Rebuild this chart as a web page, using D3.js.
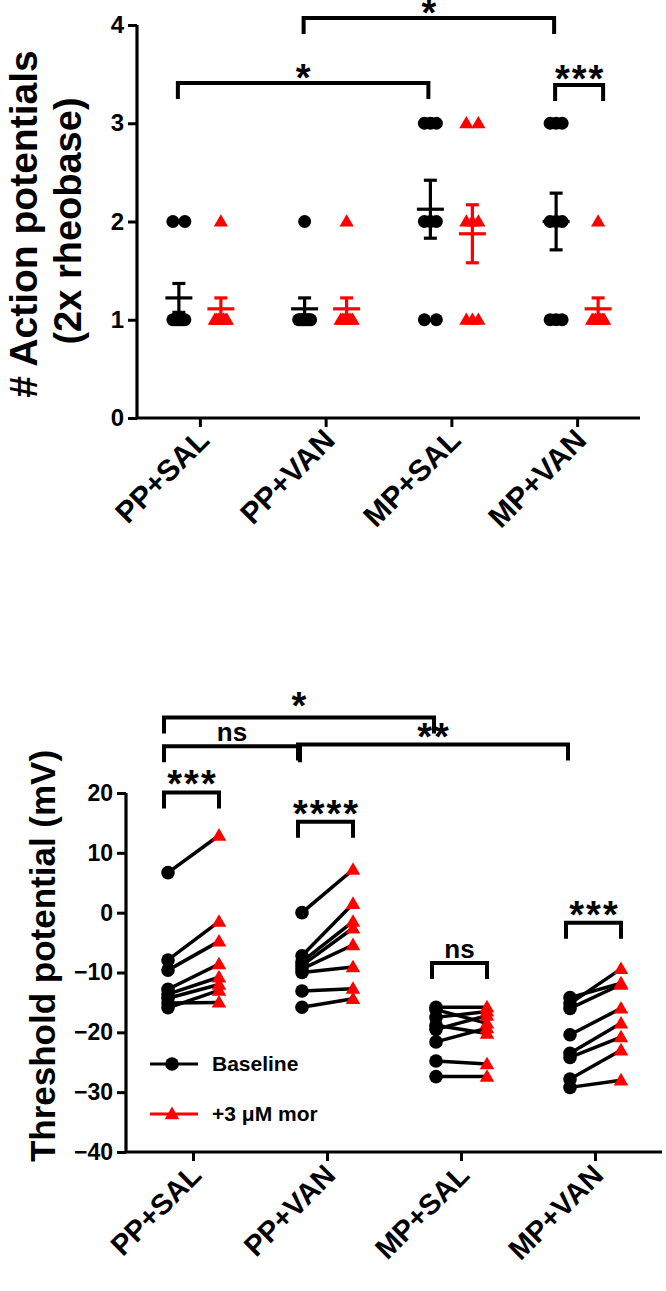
<!DOCTYPE html>
<html><head><meta charset="utf-8">
<script src="https://cdn.jsdelivr.net/npm/d3@7"></script>
<style>body{margin:0;background:#fff}svg{display:block}text{font-family:"Liberation Sans",Arial,sans-serif;font-weight:bold;fill:#000}</style>
</head><body>
<svg id="c" width="666" height="1291"></svg>
<script>
// ---------- data ----------
const categories = ["PP+SAL","PP+VAN","MP+SAL","MP+VAN"];
// Top: # action potentials (2x rheobase)
const apBaseline = [
  [2,2,1,1,1,1,1,1,1],
  [2,1,1,1,1,1,1,1,1],
  [3,3,3,2,2,2,1,1],
  [3,3,3,2,2,2,1,1,1]
];
const apMorphine = [
  [2,1,1,1,1,1,1,1,1],
  [2,1,1,1,1,1,1,1,1],
  [3,3,2,2,2,1,1,1],
  [2,1,1,1,1,1,1,1,1]
];
const apTicks = [0,1,2,3,4];
// Bottom: threshold potential (mV), paired
const thrBaseline = [
  [6.7,-7.9,-9.6,-12.8,-13.6,-14.3,-15.1,-15.9],
  [0,-7.2,-8.2,-8.8,-9.4,-10.0,-13.1,-15.8],
  [-15.8,-16.2,-17.5,-18.8,-19.5,-21.6,-24.8,-27.4],
  [-14.2,-15.2,-16.0,-20.4,-23.5,-24.2,-27.8,-29.2]
];
const thrMorphine = [
  [12.9,-1.5,-4.8,-8.6,-10.8,-12.0,-15.0,-13.0],
  [7.2,1.5,-1.5,-2.6,-5.4,-9.1,-12.7,-14.4],
  [-15.8,-18.5,-16.5,-20.2,-17.2,-19.3,-25.3,-27.4],
  [-11.8,-9.4,-12.0,-16.0,-18.5,-20.8,-23.0,-28.0]
];
const thrTicks = [20,10,0,-10,-20,-30,-40];
const legendLabels = ["Baseline","+3 \u03bcM mor"];
// significance annotations
const topSig = [
  {from:[0,"b"], to:[2,"b"], y:3.41, label:"*"},
  {from:[1,"b"], to:[3,"b"], y:4.07, label:"*"},
  {from:[3,"b"], to:[3,"r"], y:3.39, label:"***"}
];
const botSig = [
  {from:[0,"b"], to:[2,"b"], y:32.6, label:"*"},
  {from:[0,"b"], to:[1,"b"], y:27.8, label:"ns"},
  {from:[1,"b"], to:[3,"b"], y:28.1, label:"**"},
  {from:[0,"b"], to:[0,"r"], y:20.1, label:"***"},
  {from:[1,"b"], to:[1,"r"], y:15.2, label:"****"},
  {from:[2,"b"], to:[2,"r"], y:-8.4, label:"ns"},
  {from:[3,"b"], to:[3,"r"], y:-1.7, label:"***"}
];

const RED = "#ff0000";
const svg = d3.select("#c");

// ---------- TOP CHART ----------
const xT = d3.scalePoint().domain(categories).range([137,640]).padding(0.5);
const yT = d3.scaleLinear().domain([0,4]).range([418,25]);
const gTop = svg.append("g");
const offT = {b:-21, r:21};

const yAxT = gTop.append("g").attr("transform","translate(137,0)")
  .call(d3.axisLeft(yT).tickValues(apTicks).tickSize(9).tickPadding(4).tickFormat(d3.format("d")));
const xAxT = gTop.append("g").attr("transform","translate(0,418)")
  .call(d3.axisBottom(xT).tickSize(9).tickFormat(""));
[yAxT,xAxT].forEach(a=>{a.select(".domain").attr("stroke-width",3.2).attr("stroke","#000");
  a.selectAll(".tick line").attr("stroke-width",3).attr("stroke","#000");});
yAxT.select(".domain").attr("d","M0,25V418");
xAxT.select(".domain").attr("d","M137,0H640");
yAxT.selectAll(".tick text").attr("font-size",24).attr("font-family","Liberation Sans").attr("font-weight","bold");

// x labels top
gTop.selectAll(".xl").data(categories).join("text")
  .attr("text-anchor","end").attr("font-size",30)
  .attr("transform",d=>`translate(${xT(d)+11},${442}) rotate(-45)`)
  .text(d=>d);

// y title
gTop.append("text").attr("text-anchor","middle").attr("font-size",39)
  .attr("transform","translate(37,224) rotate(-90)").text("# Action potentials");
gTop.append("text").attr("text-anchor","middle").attr("font-size",38)
  .attr("transform","translate(81,221) rotate(-90)").text("(2x rheobase)");

function spread(vals){
  const counts = d3.rollup(vals, v=>v.length, d=>d);
  const seen = new Map();
  return vals.map(v=>{
    const k = counts.get(v), i = seen.get(v)||0; seen.set(v,i+1);
    const off = k===1?0: -6 + 12*i/(k-1);
    return {v, off};
  });
}
const tri = d3.symbol().type(d3.symbolTriangle).size(88);
function drawGroup(vals, cat, side, color){
  const cx = xT(cat)+offT[side];
  const g = gTop.append("g");
  spread(vals).forEach(p=>{
    if(side==="b") g.append("circle").attr("cx",cx+p.off).attr("cy",yT(p.v)).attr("r",6.5).attr("fill",color);
    else g.append("path").attr("d",tri).attr("transform",`translate(${cx+p.off},${yT(p.v)+1})`).attr("fill",color);
  });
  const m = d3.mean(vals), sem = d3.deviation(vals)/Math.sqrt(vals.length);
  g.append("line").attr("x1",cx-13.5).attr("x2",cx+13.5).attr("y1",yT(m)).attr("y2",yT(m)).attr("stroke",color).attr("stroke-width",3.2);
  g.append("line").attr("x1",cx).attr("x2",cx).attr("y1",yT(m-sem)).attr("y2",yT(m+sem)).attr("stroke",color).attr("stroke-width",3.2);
  [m-sem,m+sem].forEach(v=>g.append("line").attr("x1",cx-6.5).attr("x2",cx+6.5).attr("y1",yT(v)).attr("y2",yT(v)).attr("stroke",color).attr("stroke-width",3.2));
}
categories.forEach((c,i)=>{drawGroup(apBaseline[i],c,"b","#000");drawGroup(apMorphine[i],c,"r",RED);});

function bracket(g, x1, x2, y, drop, label, fs, ly, ls){
  g.append("path").attr("d",`M${x1},${y+drop}V${y}H${x2}V${y+drop}`)
    .attr("fill","none").attr("stroke","#000").attr("stroke-width",4);
  g.append("text").attr("x",(x1+x2)/2 + (ls||0)/2).attr("y",y+ly).attr("text-anchor","middle")
    .attr("font-size",fs).attr("letter-spacing",ls||0).text(label);
}
topSig.forEach(s=>{
  const x1 = xT(categories[s.from[0]])+offT[s.from[1]]-(s.from[1]==="b"?1:-3);
  const x2 = xT(categories[s.to[0]])+offT[s.to[1]]+(s.to[1]==="r"?5:-2);
  bracket(gTop, x1, x2, yT(s.y), 16, s.label, 38, s.label==="***"?7:8, 2);
});

// ---------- BOTTOM CHART ----------
const xB = d3.scalePoint().domain(categories).range([126,662]).padding(0.5);
const yB = d3.scaleLinear().domain([-40,20]).range([1152,793]);
const gBot = svg.append("g");
const offB = {b:-25, r:26};

const yAxB = gBot.append("g").attr("transform","translate(126,0)")
  .call(d3.axisLeft(yB).tickValues(thrTicks).tickSize(9).tickPadding(4));
const xAxB = gBot.append("g").attr("transform","translate(0,1152)")
  .call(d3.axisBottom(xB).tickSize(9).tickFormat(""));
[yAxB,xAxB].forEach(a=>{a.select(".domain").attr("stroke-width",3.2).attr("stroke","#000");
  a.selectAll(".tick line").attr("stroke-width",3).attr("stroke","#000");});
yAxB.select(".domain").attr("d","M0,793V1152");
xAxB.select(".domain").attr("d","M126,0H662");
yAxB.selectAll(".tick text").attr("font-size",23).attr("font-family","Liberation Sans").attr("font-weight","bold");

gBot.selectAll(".xl").data(categories).join("text")
  .attr("text-anchor","end").attr("font-size",29)
  .attr("transform",d=>`translate(${xB(d)+10},${1177}) rotate(-45)`)
  .text(d=>d);

gBot.append("text").attr("text-anchor","middle").attr("font-size",35)
  .attr("transform","translate(55,956) rotate(-90)").text("Threshold potential (mV)");

const triB = d3.symbol().type(d3.symbolTriangle).size(92);
categories.forEach((c,i)=>{
  const xb = xB(c)+offB.b, xr = xB(c)+offB.r;
  const g = gBot.append("g");
  thrBaseline[i].forEach((v,j)=>{
    g.append("line").attr("x1",xb).attr("x2",xr).attr("y1",yB(v)).attr("y2",yB(thrMorphine[i][j]))
      .attr("stroke","#000").attr("stroke-width",3.5);
  });
  thrBaseline[i].forEach(v=>g.append("circle").attr("cx",xb).attr("cy",yB(v)).attr("r",6.8).attr("fill","#000"));
  thrMorphine[i].forEach(v=>g.append("path").attr("d",triB).attr("transform",`translate(${xr},${yB(v)+1})`).attr("fill",RED));
});

botSig.forEach(s=>{
  const x1 = xB(categories[s.from[0]])+offB[s.from[1]]-(s.from[1]==="b"?4:0);
  const x2 = xB(categories[s.to[0]])+offB[s.to[1]]+(s.to[1]==="r"?0:-2);
  const isNs = s.label==="ns";
  if(isNs) bracket(gBot, x1, x2, yB(s.y), 16, s.label, 26, -5, 0);
  else bracket(gBot, x1, x2, yB(s.y), 16, s.label, 38, s.label==="*"?1:5, 2);
});

// legend
const lg = gBot.append("g");
legendLabels.forEach((t,i)=>{
  const y = 1064 + i*50;
  lg.append("line").attr("x1",150).attr("x2",198).attr("y1",y).attr("y2",y)
    .attr("stroke",i?RED:"#000").attr("stroke-width",3.2);
  if(i===0) lg.append("circle").attr("cx",172).attr("cy",y).attr("r",6.8).attr("fill","#000");
  else lg.append("path").attr("d",triB).attr("transform",`translate(172,${y+1})`).attr("fill",RED);
  lg.append("text").attr("x",212).attr("y",y+7).attr("font-size",21).text(t);
});
</script>
</body></html>
